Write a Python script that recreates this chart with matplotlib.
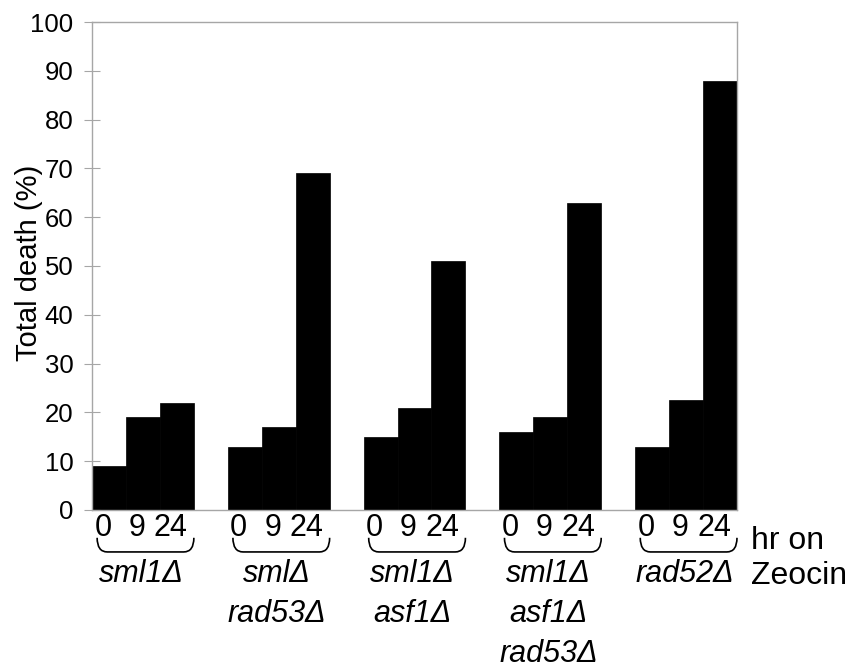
import matplotlib.pyplot as plt
from matplotlib.path import Path
from matplotlib.patches import PathPatch
import matplotlib.transforms as mtransforms

plt.rcParams['font.family'] = ['Liberation Sans', 'DejaVu Sans']

strains = ['sml1Δ', 'smlΔ\nrad53Δ', 'sml1Δ\nasf1Δ', 'sml1Δ\nasf1Δ\nrad53Δ', 'rad52Δ']
hours = ['0', '9', '24']
death = [
  [9, 19, 22],
  [13, 17, 69],
  [15, 21, 51],
  [16, 19, 63],
  [13, 22.5, 88],
]

fig = plt.figure(figsize=(8.53, 6.69), dpi=100)
ax = fig.add_axes([0.1079, 0.2377, 0.7561, 0.7294])

gray = '#a6a6a6'
xs = []
labels = []
for g, vals in enumerate(death):
  for i, v in enumerate(vals):
    x = g * 4 + i
    xs.append(x)
    labels.append(hours[i])
    ax.bar(x, v, width=1.0, color='black', edgecolor='black', linewidth=0.5)

ax.set_xlim(-0.5, 18.5)
ax.set_ylim(0, 100)
ax.set_yticks(range(0, 101, 10))
ax.tick_params(axis='y', direction='inout', length=11, color=gray, labelsize=18.5, pad=8)
ax.set_xticks(xs)
ax.set_xticklabels(labels, fontsize=22)
ax.tick_params(axis='x', length=0, pad=2)
shift = mtransforms.ScaledTranslation(-6 / 100, 0, fig.dpi_scale_trans)
for lab in ax.get_xticklabels():
  lab.set_transform(lab.get_transform() + shift)
for s in ax.spines.values():
  s.set_color(gray)
  s.set_linewidth(1.0)
ax.set_ylabel('Total death (%)', fontsize=21)
ax.yaxis.set_label_coords(-0.076, 0.506)

trans = mtransforms.blended_transform_factory(ax.transData, ax.transAxes)
top, bot = -0.057, -0.086
r = 0.3
for g, name in enumerate(strains):
  x0 = g * 4 - 0.35
  x1 = g * 4 + 2.5
  verts = [(x0, top), (x0, bot), (x0 + r, bot), (x1 - r, bot), (x1, bot), (x1, top)]
  codes = [Path.MOVETO, Path.CURVE3, Path.CURVE3, Path.LINETO, Path.CURVE3, Path.CURVE3]
  ax.add_patch(PathPatch(Path(verts, codes), transform=trans, fill=False,
                         edgecolor='black', linewidth=1.2, clip_on=False))
  ax.text(g * 4 + 0.95, -0.1, name, transform=trans, ha='center', va='top',
          fontsize=22, style='italic', linespacing=1.43)

ax.text(1.022, -0.033, 'hr on\nZeocin', transform=ax.transAxes, ha='left', va='top',
        fontsize=23, linespacing=1.2)

fig.savefig('out.png', dpi=100)
